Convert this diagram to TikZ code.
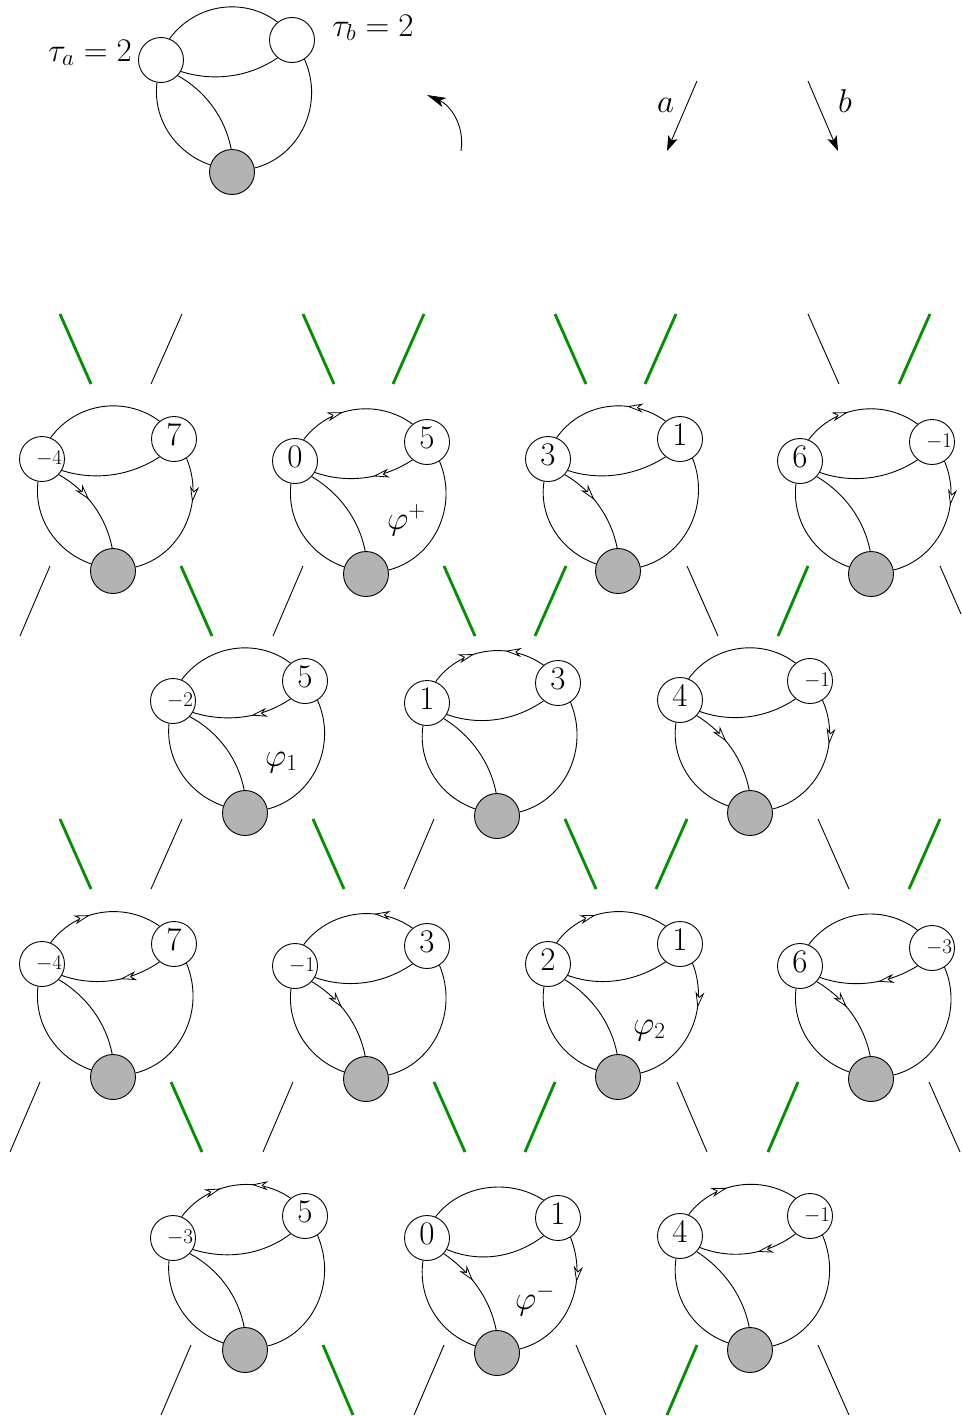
\RequirePackage{fix-cm}
\documentclass[tikz,border=0pt]{standalone}
\usetikzlibrary{calc,arrows.meta,decorations.markings}
\definecolor{gr}{RGB}{0,144,0}
\definecolor{nodegray}{RGB}{179,179,179}
\tikzset{
  x=1pt,y=-1pt,
  vert/.style={circle,draw,line width=.9pt,fill=white,minimum size=45pt,inner sep=0pt},
  root/.style={vert,fill=nodegray},
  edge/.style={line width=.9pt},
  thinseg/.style={line width=.9pt},
  greenseg/.style={draw=gr,line width=2.8pt},
  bignum/.style={anchor=base,inner sep=0pt,yshift=-6pt,font=\fontsize{33}{33}\selectfont},
  smallnum/.style={anchor=base,inner sep=0pt,xshift=7pt,yshift=-5.3pt,font=\fontsize{21}{21}\selectfont},
  mathlab/.style={anchor=base west,inner sep=0pt,font=\fontsize{33}{33}\selectfont},
  bigarrow/.style={-{Stealth[length=15pt,width=10pt,inset=3.5pt]},line width=.9pt},
  rotarrow/.style={-{Stealth[length=19pt,width=10pt,inset=5pt]},line width=.9pt},
  fwd/.style={postaction={decorate,decoration={markings,mark=at position #1 with {\arrow{Stealth[length=16pt,width=9pt,inset=5pt,fill=white,line width=.8pt]}}}}},
  bwd/.style={postaction={decorate,decoration={markings,mark=at position #1 with {\arrowreversed{Stealth[length=16pt,width=9pt,inset=5pt,fill=white,line width=.8pt]}}}}},
  etop/.style={},elow/.style={},einn/.style={},erig/.style={},
  topF/.style={etop/.append style={fwd=.40}},
  topB/.style={etop/.append style={bwd=.66}},
  lowB/.style={elow/.append style={bwd=.58}},
  innF/.style={einn/.append style={fwd=.42}},
  rigF/.style={erig/.append style={fwd=.33}},
}
% the five edges of one figure: name of the figure
\newcommand\gedges[1]{%
  \draw[edge,etop] (#1a.68) .. controls ($(#1c)+(-36.7,-168.5)$) and ($(#1c)+(12.2,-175.3)$) .. (#1b.129);
  \draw[edge,elow] (#1a.-30) .. controls ($(#1c)+(-17.5,-89.8)$) and ($(#1c)+(18.2,-95.4)$) .. (#1b.231);
  \draw[edge] (#1a.260) .. controls ($(#1c)+(-79.6,-53)$) and ($(#1c)+(-56.4,-19)$) .. (#1c.162);
  \draw[edge,einn] (#1a.-43) .. controls ($(#1c)+(-26.3,-80.8)$) and ($(#1c)+(-6.9,-54.1)$) .. (#1c.92);
  \draw[edge,erig] (#1b.-57.5) .. controls ($(#1c)+(92.8,-67)$) and ($(#1c)+(67.6,-15.5)$) .. (#1c.10);}
% name, A, B, C, styleA, labelA, styleB, labelB, arrow flags
\newcommand\gadget[9]{%
  \begin{scope}[#9]
    \node[vert] (#1a) at (#2) {};
    \node[vert] (#1b) at (#3) {};
    \node[root] (#1c) at (#4) {};
    \node[#5] (#1al) at (#2) {$#6$};
    \node[#7] (#1bl) at (#3) {$#8$};
    \gedges{#1}
  \end{scope}}
% name, style, x1,y1, x2,y2
\newcommand\seg[6]{%
  \coordinate (#1s) at (#3,#4);
  \coordinate (#1e) at (#5,#6);
  \draw[#2] (#1s) -- (#1e);}
\begin{document}
\begin{tikzpicture}
\useasboundingbox (0,0) rectangle (961,1416);
% top figure
\node[vert] (ta) at (161,60) {};
\node[vert] (tb) at (292,40) {};
\node[root] (tc) at (232,172) {};
\gedges{t}
\node[mathlab] (ltaua) at (48,61) {$\tau_a=2$};
\node[mathlab] (ltaub) at (332,36) {$\tau_b=2$};
\node[mathlab] (la) at (657,112) {$a$};
\node[mathlab] (lb) at (838,112) {$b$};
\coordinate (r1) at (461,151);
\coordinate (r2) at (427,95);
\draw[rotarrow] (r1) .. controls (465,125) and (450,105) .. (r2);
\coordinate (a1) at (697,81);
\coordinate (a2) at (667,151);
\draw[bigarrow] (a1) -- (a2);
\coordinate (b1) at (808,81);
\coordinate (b2) at (838,151);
\draw[bigarrow] (b1) -- (b2);

% row 1
\gadget{p1}{42,459}{174,439}{113,571}{smallnum}{-4}{bignum}{7}{innF,rigF}
\gadget{p2}{295,461}{427,442}{366,574}{bignum}{0}{bignum}{5}{topF,lowB}
\gadget{p3}{548,459}{680,439}{618,571}{bignum}{3}{bignum}{1}{topB,innF}
\gadget{p4}{800,461}{932,442}{871,574}{bignum}{6}{smallnum}{-1}{topF,rigF}
% row 2
\gadget{q1}{173,701}{305,681}{245,813}{smallnum}{-2}{bignum}{5}{lowB}
\gadget{q2}{427,703}{558,683}{497,816}{bignum}{1}{bignum}{3}{topF,topB}
\gadget{q3}{680,700}{810,681}{750,813}{bignum}{4}{smallnum}{-1}{innF,rigF}
% row 3
\gadget{u1}{42,964}{174,944}{113,1077}{smallnum}{-4}{bignum}{7}{topF,lowB}
\gadget{u2}{295,966}{427,946}{366,1079}{smallnum}{-1}{bignum}{3}{topB,innF}
\gadget{u3}{548,964}{680,944}{618,1077}{bignum}{2}{bignum}{1}{topF,rigF}
\gadget{u4}{800,966}{932,948}{871,1079}{bignum}{6}{smallnum}{-3}{lowB,innF}
% row 4
\gadget{v1}{173,1238}{305,1216}{245,1350}{smallnum}{-3}{bignum}{5}{topF,topB}
\gadget{v2}{427,1238}{558,1218}{497,1353}{bignum}{0}{bignum}{1}{innF,rigF}
\gadget{v3}{680,1236}{810,1216}{750,1350}{bignum}{4}{smallnum}{-1}{topF,lowB}
% phi labels
\node[mathlab] (phip) at (387,529) {$\varphi^+$};
\node[mathlab] (phi1) at (265,766) {$\varphi_1$};
\node[mathlab] (phi2) at (633,1034) {$\varphi_2$};
\node[mathlab] (phim) at (515,1309) {$\varphi^-$};

% short segments
\seg{s1}{greenseg}{60}{314}{91}{384}
\seg{s2}{thinseg}{182}{314}{151}{384}
\seg{s3}{greenseg}{303}{314}{334}{384}
\seg{s4}{greenseg}{424}{314}{393}{384}
\seg{s5}{greenseg}{555}{314}{586}{384}
\seg{s6}{greenseg}{676}{314}{645}{384}
\seg{s7}{thinseg}{808}{314}{839}{384}
\seg{s8}{greenseg}{930}{314}{899}{384}

\seg{m1}{thinseg}{50}{566}{20}{636}
\seg{m2}{greenseg}{181}{566}{212}{636}
\seg{m3}{thinseg}{303}{566}{273}{636}
\seg{m4}{greenseg}{444}{566}{475}{636}
\seg{m5}{greenseg}{566}{566}{535}{636}
\seg{m6}{thinseg}{687}{566}{718}{636}
\seg{m7}{greenseg}{808}{566}{778}{636}
\seg{m8}{thinseg}{940}{566}{961}{614}

\seg{w1}{greenseg}{60}{819}{91}{889}
\seg{w2}{thinseg}{182}{819}{151}{889}
\seg{w3}{greenseg}{313}{819}{344}{889}
\seg{w4}{thinseg}{434}{819}{404}{889}
\seg{w5}{greenseg}{565}{819}{596}{889}
\seg{w6}{greenseg}{687}{819}{656}{889}
\seg{w7}{thinseg}{818}{819}{849}{889}
\seg{w8}{greenseg}{940}{819}{909}{889}

\seg{x1}{thinseg}{40}{1082}{10}{1152}
\seg{x2}{greenseg}{171}{1082}{202}{1152}
\seg{x3}{thinseg}{293}{1082}{263}{1152}
\seg{x4}{greenseg}{434}{1082}{465}{1152}
\seg{x5}{greenseg}{555}{1082}{525}{1152}
\seg{x6}{thinseg}{677}{1082}{707}{1152}
\seg{x7}{greenseg}{798}{1082}{768}{1152}
\seg{x8}{thinseg}{929}{1082}{960}{1152}

\seg{y1}{thinseg}{191}{1345}{161}{1415}
\seg{y2}{greenseg}{323}{1345}{353}{1415}
\seg{y3}{thinseg}{444}{1345}{414}{1415}
\seg{y4}{thinseg}{576}{1345}{606}{1415}
\seg{y5}{greenseg}{697}{1345}{667}{1415}
\seg{y6}{thinseg}{818}{1345}{849}{1415}
\end{tikzpicture}
\end{document}
